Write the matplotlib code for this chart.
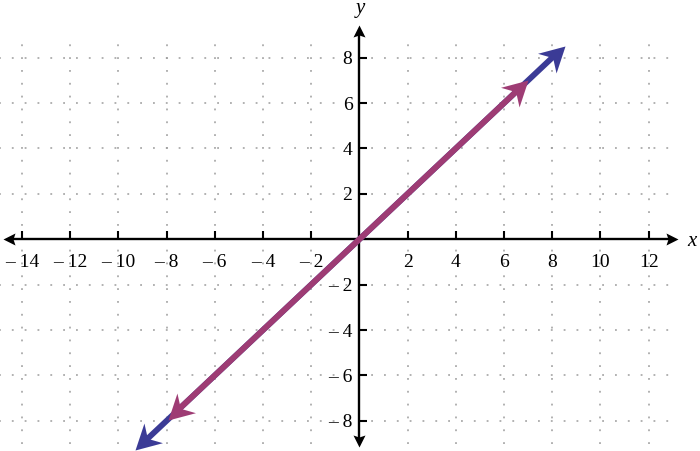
import numpy as np
import matplotlib.pyplot as plt
from matplotlib.markers import MarkerStyle
from matplotlib.path import Path
from matplotlib.transforms import Affine2D

plt.rcParams['font.family'] = ['Liberation Serif', 'DejaVu Serif']

xticks = [-14, -12, -10, -8, -6, -4, -2, 2, 4, 6, 8, 10, 12]
yticks = [-8, -6, -4, -2, 2, 4, 6, 8]
blue_x = [-9.3, 8.52]
blue_y = [-9.3, 8.52]
purple_x = [-7.95, 7.0]
purple_y = [-7.95, 7.0]
xaxis_ends = [-14.8, 13.2]
yaxis_ends = [-9.15, 9.45]

blue = '#3b3b96'
purple = '#9e3c74'


def lab(v):
    return str(v) if v > 0 else '\u2013 ' + str(-v)


fig = plt.figure(figsize=(7, 4.51), dpi=100)
ax = fig.add_axes([0, 0, 1, 1])
ax.set_xlim(-14.91, 14.13)
ax.set_ylim(-9.33, 10.54)
ax.patch.set_visible(False)

# dotted grid
dots = (0, (1.2, 7.2))
ax.vlines(xticks, -9, 9, colors='#9c9c9c', linestyles=[dots], linewidth=1.1, zorder=1)
ax.hlines(yticks, -15, 13, colors='#9c9c9c', linestyles=[dots], linewidth=1.1, zorder=1)

# axes through origin
for s in ['top', 'right']:
    ax.spines[s].set_visible(False)
ax.spines['bottom'].set_position(('data', 0))
ax.spines['left'].set_position(('data', 0))
ax.spines['bottom'].set_bounds(xaxis_ends[0] + 0.35, xaxis_ends[1] - 0.35)
ax.spines['left'].set_bounds(yaxis_ends[0] + 0.35, yaxis_ends[1] - 0.35)
for s in ['bottom', 'left']:
    ax.spines[s].set_linewidth(1.7)
ax.set_xticks(xticks, [lab(v) for v in xticks])
ax.set_yticks(yticks, [lab(v) for v in yticks])
ax.tick_params(axis='x', direction='in', length=5.8, width=1.5, pad=10.5, labelsize=14)
ax.tick_params(axis='y', direction='in', length=5.8, width=1.5, pad=5, labelsize=14)


def head(x, y, ux, uy, L, W, N, color, z):
    verts = [(0, 0), (-L, W), (-N, 0), (-L, -W), (0, 0)]
    codes = [Path.MOVETO, Path.LINETO, Path.LINETO, Path.LINETO, Path.CLOSEPOLY]
    ang = np.degrees(np.arctan2(uy, ux))
    m = MarkerStyle(Path(verts, codes), transform=Affine2D().rotate_deg(ang))
    ax.plot([x], [y], linestyle='none', marker=m, markersize=2 * L * 0.72,
            color=color, markeredgewidth=0, zorder=z)


def arrow_line(xs, ys, color, lw, L, W, N, z):
    p0 = ax.transData.transform((xs[0], ys[0]))
    p1 = ax.transData.transform((xs[1], ys[1]))
    u = (p1 - p0) / np.hypot(*(p1 - p0))
    a = ax.transData.inverted().transform(p0 + u * (N - 1))
    b = ax.transData.inverted().transform(p1 - u * (N - 1))
    ax.plot([a[0], b[0]], [a[1], b[1]], color=color, linewidth=lw,
            solid_capstyle='butt', zorder=z)
    head(xs[1], ys[1], u[0], u[1], L, W, N, color, z + 0.1)
    head(xs[0], ys[0], -u[0], -u[1], L, W, N, color, z + 0.1)


# axis arrowheads
head(xaxis_ends[1], 0, 1, 0, 12, 6, 10, 'black', 3)
head(xaxis_ends[0], 0, -1, 0, 12, 6, 10, 'black', 3)
head(0, yaxis_ends[1], 0, 1, 12, 6, 10, 'black', 3)
head(0, yaxis_ends[0], 0, -1, 12, 6, 10, 'black', 3)

arrow_line(blue_x, blue_y, blue, 4.2, 25, 13.5, 17, 4)
arrow_line(purple_x, purple_y, purple, 4.2, 25, 13.5, 17, 5)

ax.text(13.8, -0.3, 'x', fontsize=15, style='italic', ha='center', va='baseline')
ax.text(0.05, 9.95, 'y', fontsize=15, style='italic', ha='center', va='baseline')

fig.savefig('out.png', dpi=100)
